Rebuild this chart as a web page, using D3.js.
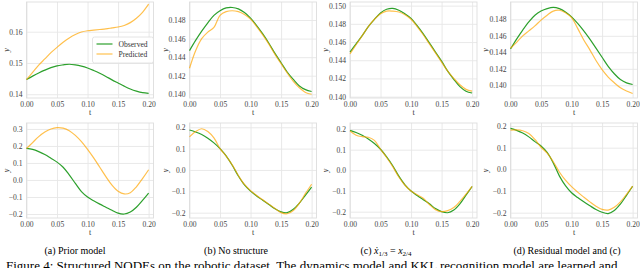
<!DOCTYPE html>
<html>
<head>
<meta charset="utf-8">
<script src="https://cdn.jsdelivr.net/npm/d3@7"></script>
<style>
  body { margin: 0; background: #fff; }
  svg { display: block; }
  svg text { font-family: "Liberation Serif", "DejaVu Serif", serif; }
</style>
</head>
<body>
<script>
// time grid shared by every panel
const tValues = [0, 0.01, 0.02, 0.03, 0.04, 0.05, 0.06, 0.07, 0.08, 0.09, 0.10,
                 0.11, 0.12, 0.13, 0.14, 0.15, 0.16, 0.17, 0.18, 0.19, 0.20];
const tTicks = [0, 0.05, 0.10, 0.15, 0.20];

// top row (first state)
const obsTopA  = [.1447, .1458, .1468, .1477, .1485, .1491, .1494, .1496, .1494, .1490, .1484, .1476, .1467, .1457, .1446, .1436, .1426, .1417, .1410, .1405, .1403];
const predTopA = [.1447, .1470, .1493, .1513, .1533, .1550, .1566, .1580, .1591, .1599, .1603, .1605, .1607, .1609, .1612, .1615, .1620, .1629, .1643, .1662, .1688];
const obsTopB  = [.1447, .1458, .1468, .1477, .1485, .1490, .1493, .14935, .1492, .1488, .1482, .1474, .1465, .1455, .1444, .1434, .1424, .1416, .1409, .1405, .1403];
const predTopB = [.1428, .1447, .1460, .1467, .1472, .1485, .1489, .1490, .1489, .1486, .1481, .1473, .1464, .1454, .1443, .1433, .1423, .1414, .1407, .1402, .1400];
const obsTopC  = [.1449, .1458, .1467, .1477, .1485, .1492, .1496, .1497, .1495, .1491, .1486, .1478, .1469, .1459, .1449, .1439, .1428, .1419, .1411, .1406, .1404];
const predTopC = [.1447, .1457, .1467, .1477, .1485, .1491, .1494, .1494, .1493, .1490, .1485, .1477, .1468, .1458, .1448, .1438, .1428, .1420, .1413, .1408, .1406];
const obsTopD  = [.1444, .1456, .1467, .1477, .1485, .1490, .1493, .14945, .1493, .1489, .1483, .1475, .1466, .1456, .1445, .1434, .1423, .1414, .1407, .1403, .1401];
const predTopD = [.1445, .1452, .1460, .1466, .1472, .1479, .1485, .1490, .1491, .1488, .1482, .1469, .1455, .1443, .1430, .1419, .1410, .1403, .1397, .1393, .1390];

// bottom row (second state)
const obsBotA  = [.186, .180, .167, .150, .128, .105, .075, .030, -.020, -.068, -.100, -.122, -.142, -.160, -.178, -.195, -.200, -.188, -.160, -.120, -.077];
const predBotA = [.185, .220, .255, .282, .300, .308, .305, .290, .262, .225, .180, .130, .075, .020, -.030, -.066, -.082, -.075, -.040, .008, .060];
const obsBotB  = [.187, .178, .166, .149, .127, .100, .066, .022, -.028, -.070, -.099, -.122, -.142, -.162, -.182, -.196, -.200, -.184, -.155, -.118, -.080];
const predBotB = [.155, .180, .193, .180, .150, .100, .065, .024, -.026, -.068, -.097, -.120, -.140, -.160, -.180, -.200, -.205, -.190, -.155, -.110, -.067];
const obsBotC  = [.193, .183, .170, .152, .130, .102, .065, .022, -.028, -.070, -.100, -.122, -.142, -.162, -.185, -.200, -.205, -.192, -.162, -.120, -.078];
const predBotC = [.190, .170, .163, .160, .145, .102, .062, .018, -.032, -.072, -.100, -.118, -.135, -.165, -.190, -.200, -.195, -.180, -.150, -.115, -.077];
const obsBotD  = [.189, .180, .168, .150, .128, .108, .078, .030, -.030, -.075, -.108, -.130, -.150, -.168, -.185, -.198, -.204, -.190, -.160, -.120, -.078];
const predBotD = [.181, .182, .178, .165, .138, .102, .075, .035, -.012, -.050, -.080, -.105, -.128, -.150, -.170, -.185, -.188, -.175, -.150, -.115, -.077];

// y ticks
const yTicksTopA = [0.14, 0.15, 0.16];
const yTicksTop  = [0.140, 0.142, 0.144, 0.146, 0.148];
const yTicksTopC = [0.140, 0.142, 0.144, 0.146, 0.148, 0.150];
const yTicksBotA = [-0.2, -0.1, 0.0, 0.1, 0.2, 0.3];
const yTicksBot  = [-0.2, -0.1, 0.0, 0.1, 0.2];

const captions = ['(a) Prior model', '(b) No structure', '(c) ', '(d) Residual model and (c)'];
const legendLabels = ['Observed', 'Predicted'];

const W = 640, H = 268;
const green = '#2ca02c', orange = '#ffa500';
const serif = '"Liberation Serif", "DejaVu Serif", serif';

const svg = d3.select('body').append('svg').attr('width', W).attr('height', H)
  .attr('font-family', serif);

const lefts = [26.5, 189.5, 350, 510.5];
const yLabelX = [7, 166, 326, 486];
const axW = 127;
const rows = [{ y0: 2, y1: 98 }, { y0: 123, y1: 218 }];

const panels = [
  { col: 0, row: 0, dom: [0.1388, 0.1695], ticks: yTicksTopA, fmt: '.2f', obs: obsTopA, pred: predTopA, legend: true },
  { col: 1, row: 0, dom: [0.1396, 0.14994], ticks: yTicksTop, fmt: '.3f', obs: obsTopB, pred: predTopB },
  { col: 2, row: 0, dom: [0.13985, 0.1504], ticks: yTicksTopC, fmt: '.3f', obs: obsTopC, pred: predTopC },
  { col: 3, row: 0, dom: [0.13846, 0.1501], ticks: yTicksTop, fmt: '.3f', obs: obsTopD, pred: predTopD },
  { col: 0, row: 1, dom: [-0.2235, 0.335], ticks: yTicksBotA, fmt: '.1f', obs: obsBotA, pred: predBotA },
  { col: 1, row: 1, dom: [-0.225, 0.22], ticks: yTicksBot, fmt: '.1f', obs: obsBotB, pred: predBotB },
  { col: 2, row: 1, dom: [-0.2305, 0.229], ticks: yTicksBot, fmt: '.1f', obs: obsBotC, pred: predBotC },
  { col: 3, row: 1, dom: [-0.2245, 0.214], ticks: yTicksBot, fmt: '.1f', obs: obsBotD, pred: predBotD }
];

panels.forEach(p => {
  const left = lefts[p.col];
  const { y0, y1 } = rows[p.row];
  const x = d3.scaleLinear().domain([0, 0.208]).range([left, left + axW]);
  const y = d3.scaleLinear().domain(p.dom).range([y1, y0]);
  const g = svg.append('g');

  // grid + tick labels
  const gx = g.append('g')
    .attr('transform', `translate(0,${y1})`)
    .call(d3.axisBottom(x).tickValues(tTicks).tickSize(-(y1 - y0)).tickPadding(3.5).tickFormat(d3.format('.2f')));
  const gy = g.append('g')
    .attr('transform', `translate(${left},0)`)
    .call(d3.axisLeft(y).tickValues(p.ticks).tickSize(-axW).tickPadding(4).tickFormat(d3.format(p.fmt)));
  [gx, gy].forEach(a => {
    a.attr('font-family', serif).attr('font-size', 7.6);
    a.select('.domain').remove();
    a.selectAll('line').attr('stroke', '#e6e6e6').attr('stroke-width', 0.9);
    a.selectAll('text').attr('fill', '#444');
  });

  // frame
  g.append('rect')
    .attr('x', left).attr('y', y0).attr('width', axW).attr('height', y1 - y0)
    .attr('fill', 'none').attr('stroke', '#dddddd').attr('stroke-width', 0.9);

  // axis labels
  g.append('text')
    .attr('x', left + axW / 2).attr('y', y1 + 17)
    .attr('text-anchor', 'middle')
    .attr('font-size', 8).attr('fill', '#333')
    .text('t');
  g.append('text')
    .attr('transform', `translate(${yLabelX[p.col] + 2},${(y0 + y1) / 2}) rotate(-90)`)
    .attr('text-anchor', 'middle')
    .attr('font-size', 8).attr('font-style', 'italic').attr('fill', '#333')
    .text('y');

  const line = d3.line()
    .x((d, i) => x(tValues[i]))
    .y(d => y(d))
    .curve(d3.curveCatmullRom.alpha(0.5));

  g.append('path').datum(p.obs)
    .attr('d', line).attr('fill', 'none')
    .attr('stroke', green).attr('stroke-width', 1.2);
  g.append('path').datum(p.pred)
    .attr('d', line).attr('fill', 'none')
    .attr('stroke', orange).attr('stroke-opacity', 0.7).attr('stroke-width', 1.2);

  if (p.legend) {
    const lg = g.append('g').attr('transform', `translate(${left + 66},37)`);
    lg.append('rect')
      .attr('width', 61).attr('height', 26).attr('rx', 2)
      .attr('fill', '#fff').attr('fill-opacity', 0.85)
      .attr('stroke', '#dddddd').attr('stroke-width', 0.8);
    legendLabels.forEach((lab, i) => {
      const yy = 7 + i * 10;
      lg.append('line')
        .attr('x1', 4).attr('x2', 20).attr('y1', yy).attr('y2', yy)
        .attr('stroke', i === 0 ? green : orange)
        .attr('stroke-opacity', i === 0 ? 1 : 0.7)
        .attr('stroke-width', 1.2);
      lg.append('text')
        .attr('x', 26).attr('y', yy).attr('dy', '0.33em')
        .attr('font-size', 7.6).attr('fill', '#333')
        .text(lab);
    });
  }
});

// sub-figure captions
const capX = [75, 236, 386, 567];
captions.forEach((c, i) => {
  const t = svg.append('text')
    .attr('x', capX[i]).attr('y', 254)
    .attr('text-anchor', 'middle')
    .attr('font-size', 10).attr('fill', '#000');
  t.append('tspan').text(c);
  if (i === 2) {
    t.append('tspan').attr('font-style', 'italic').text('ẋ');
    t.append('tspan').attr('dy', 2).attr('font-size', 7).text('1/3');
    t.append('tspan').attr('dy', -2).text(' = ');
    t.append('tspan').attr('font-style', 'italic').text('x');
    t.append('tspan').attr('dy', 2).attr('font-size', 7).text('2/4');
  }
});

// figure caption (cut off by the page edge, as in the source figure)
svg.append('text')
  .attr('x', 6).attr('y', 270)
  .attr('font-size', 13).attr('fill', '#000')
  .text('Figure 4: Structured NODEs on the robotic dataset. The dynamics model and KKL recognition model are learned and');
</script>
</body>
</html>
